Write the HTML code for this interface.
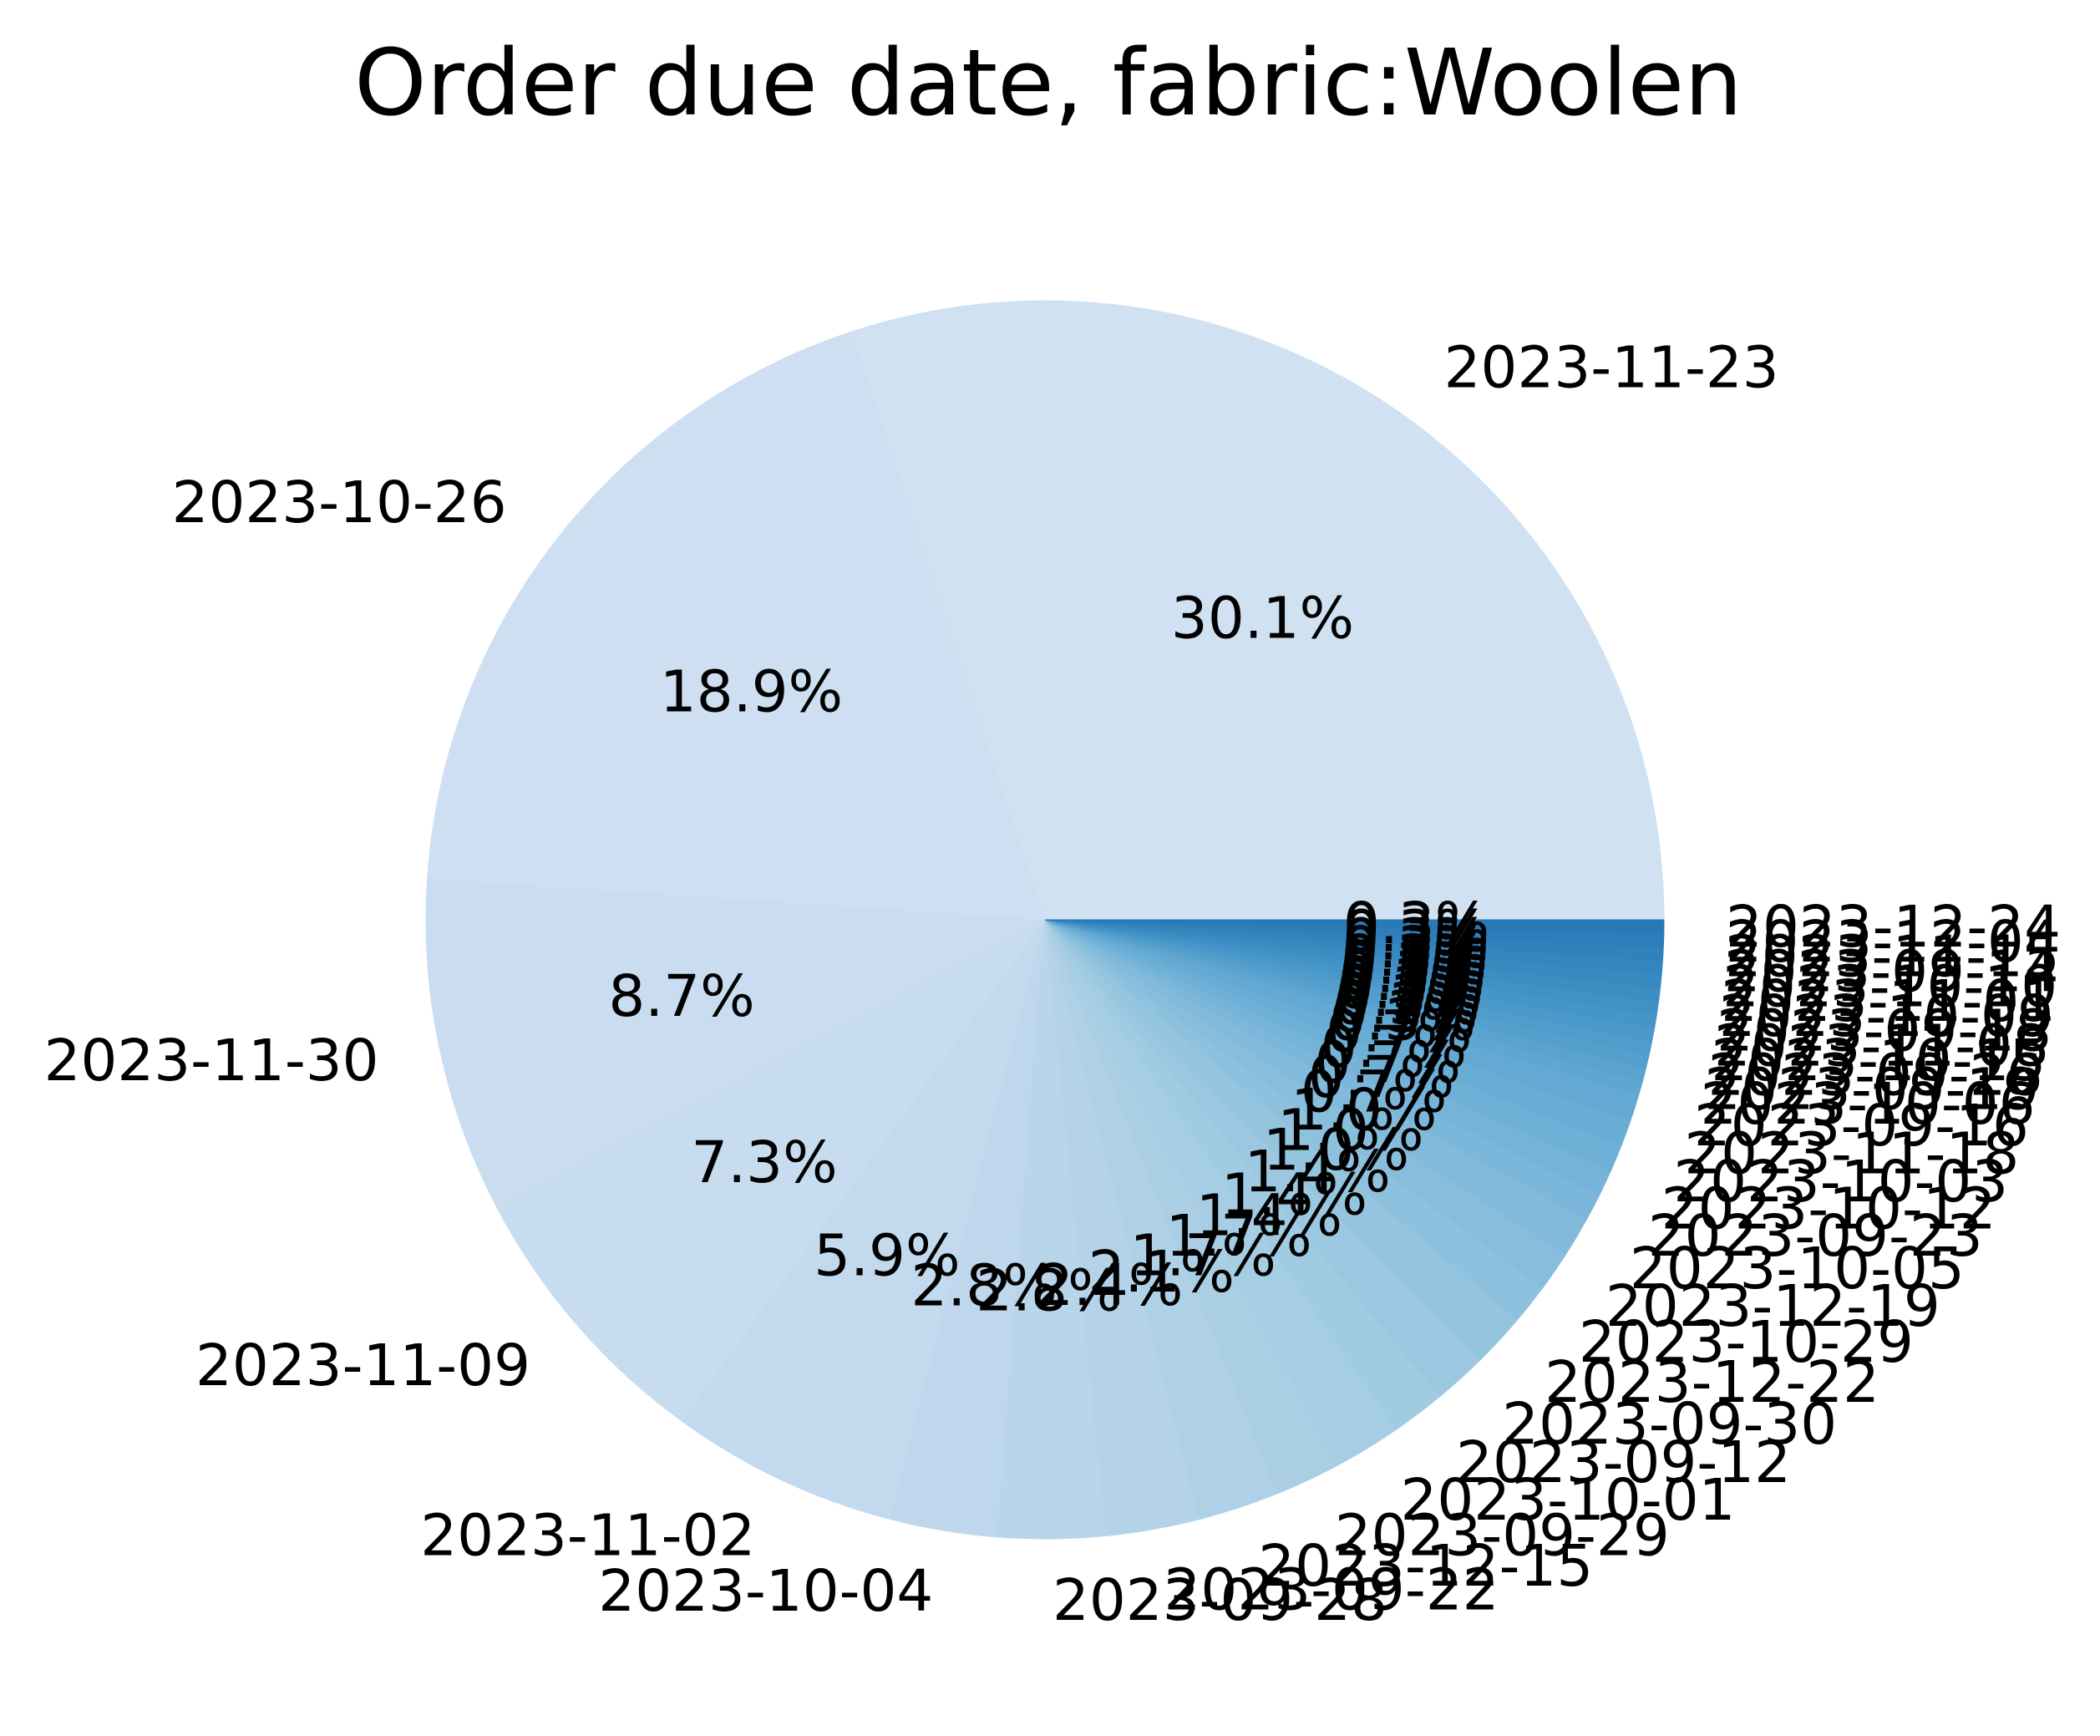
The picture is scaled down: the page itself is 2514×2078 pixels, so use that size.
<!DOCTYPE html>
<html><head><meta charset="utf-8"><style>
body{margin:0;background:#fff}
svg text{font-family:"DejaVu Sans","Liberation Sans",sans-serif;fill:#000}
</style></head><body>
<svg id="chart" width="2514" height="2073" viewBox="0 0 2514 2073" xmlns="http://www.w3.org/2000/svg">
<rect width="2514" height="2073" fill="#fff"/>
<text x="1255" y="137" font-size="110" text-anchor="middle">Order due date, fabric:Woolen</text>
<g id="wedges"></g><g id="labels"></g><g id="pcts"></g>
</svg>
<script>
const categories = ["2023-11-23","2023-10-26","2023-11-30","2023-11-09","2023-11-02","2023-10-04","2023-09-28","2023-09-22","2023-12-15","2023-09-29","2023-10-01","2023-09-12","2023-09-30","2023-12-22","2023-10-29","2023-12-19","2023-10-05","2023-09-23","2023-10-12","2023-10-03","2023-11-18","2023-09-16","2023-10-06","2023-09-19","2023-09-26","2023-10-15","2023-11-08","2023-09-18","2023-10-09","2023-11-01","2023-10-10","2023-09-14","2023-11-15","2023-12-04","2023-12-24"];
const values = [86,54,25,21,17,8,8,7,6,5,5,4,4,4,3,3,3,2,2,2,2,2,1,1,1,1,1,1,1,1,1,1,1,1,1];
const cx=1251, cy=1101, R=741;
const stops=[[247,251,255],[222,235,247],[198,219,239],[158,202,225],[107,174,214],[66,146,198],[33,113,181],[8,81,156],[8,48,107]];
function blues(t){const p=t*(stops.length-1);const i=Math.min(Math.floor(p),stops.length-2);const f=p-i;const a=stops[i],b=stops[i+1];return `rgb(${a.map((v,k)=>Math.round(v+(b[k]-v)*f)).join(',')})`;}
const total=values.reduce((a,b)=>a+b,0);
const NS="http://www.w3.org/2000/svg";
const gw=document.getElementById('wedges'),gl=document.getElementById('labels'),gp=document.getElementById('pcts');
let ang=0;
values.forEach((v,i)=>{
  const a0=ang, a1=ang+v/total*2*Math.PI; ang=a1;
  const x0=cx+R*Math.cos(a0), y0=cy-R*Math.sin(a0), x1=cx+R*Math.cos(a1), y1=cy-R*Math.sin(a1);
  const large=(a1-a0)>Math.PI?1:0;
  const p=document.createElementNS(NS,'path');
  p.setAttribute('d',`M${cx},${cy} L${x0},${y0} A${R},${R} 0 ${large} 0 ${x1},${y1} Z`);
  const col=blues(0.2+0.52*i/(values.length-1));
  p.setAttribute('fill',col); p.setAttribute('stroke',col); p.setAttribute('stroke-width','1');
  
  
  gw.appendChild(p);
  const m=(a0+a1)/2, c=Math.cos(m), s=Math.sin(m);
  const t=document.createElementNS(NS,'text');
  t.setAttribute('x',cx+1.1*R*c); t.setAttribute('y',cy-1.1*R*s);
  t.setAttribute('text-anchor',c>0?'start':'end');
  t.setAttribute('dominant-baseline','central');
  t.setAttribute('font-size','69');
  t.textContent=categories[i];
  
  
  gl.appendChild(t);
  const q=document.createElementNS(NS,'text');
  q.setAttribute('x',cx+0.6*R*c); q.setAttribute('y',cy-0.6*R*s);
  q.setAttribute('text-anchor','middle');
  q.setAttribute('dominant-baseline','central');
  q.setAttribute('font-size','69');
  q.textContent=(v/total*100).toFixed(1)+'%';
  
  
  gp.appendChild(q);
});
</script>
</body></html>
